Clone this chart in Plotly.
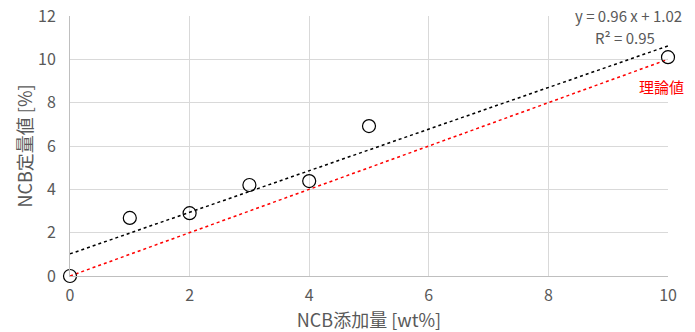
import numpy as np
import plotly.graph_objects as go

# Measured NCB content vs. amount added
added = [0, 1, 2, 3, 4, 5, 10]
measured = [0, 2.68, 2.9, 4.2, 4.38, 6.92, 10.1]

# Linear fit shown on the chart
slope = 0.96
intercept = 1.02
r2 = 0.95

fit_x = [0, 10]
fit_y = [slope * v + intercept for v in fit_x]
theory_x = [0, 10]
theory_y = [0, 10]

FONT = "Noto Sans CJK JP"
GREY = "#595959"

fig = go.Figure()
fig.add_trace(go.Scatter(x=fit_x, y=fit_y, mode="lines",
                         line=dict(color="black", width=1.5, dash="dot"),
                         hoverinfo="skip", showlegend=False))
fig.add_trace(go.Scatter(x=theory_x, y=theory_y, mode="lines",
                         line=dict(color="red", width=1.5, dash="dot"),
                         hoverinfo="skip", showlegend=False))
fig.add_trace(go.Scatter(x=added, y=measured, mode="markers",
                         marker=dict(symbol="circle-open", size=13,
                                     color="black", line=dict(width=1.2)),
                         cliponaxis=False, showlegend=False))

fig.add_annotation(x=1.0, y=1.0, xref="paper", yref="paper",
                   xanchor="right", yanchor="middle", xshift=16, yshift=1,
                   text=f"y = {slope:.2f} x + {intercept:.2f}",
                   showarrow=False, font=dict(family=FONT, size=15, color=GREY))
fig.add_annotation(x=1.0, y=1.0, xref="paper", yref="paper",
                   xanchor="right", yanchor="middle", xshift=-11, yshift=-21,
                   text=f"R² = {r2:.2f}",
                   showarrow=False, font=dict(family=FONT, size=15, color=GREY))
fig.add_annotation(x=10, y=10, xref="x", yref="y",
                   xanchor="right", yanchor="middle", xshift=18, yshift=-27,
                   text="理論値", showarrow=False,
                   font=dict(family=FONT, size=15, color="red"))

fig.update_layout(
    width=695, height=332,
    margin=dict(l=70, r=27, t=16, b=56, autoexpand=False),
    plot_bgcolor="white", paper_bgcolor="white",
    font=dict(family=FONT, color=GREY, size=14),
)
fig.update_xaxes(range=[0, 10], tickvals=[0, 2, 4, 6, 8, 10],
                 showgrid=True, gridcolor="#d9d9d9", gridwidth=1,
                 showline=True, linecolor="#bfbfbf", linewidth=1,
                 zeroline=False, ticks="", ticklen=0, automargin=False,
                 ticklabelstandoff=5,
                 tickfont=dict(size=16, color=GREY),
                 title=dict(text="NCB添加量 [wt%]", font=dict(size=18, color=GREY),
                            standoff=4))
fig.update_yaxes(range=[0, 12], tickvals=[0, 2, 4, 6, 8, 10, 12],
                 showgrid=True, gridcolor="#d9d9d9", gridwidth=1,
                 showline=True, linecolor="#bfbfbf", linewidth=1,
                 zeroline=False, ticks="", automargin=False,
                 ticklabelstandoff=10,
                 tickfont=dict(size=16, color=GREY),
                 title=dict(text="NCB定量値 [%]", font=dict(size=18, color=GREY),
                            standoff=0))

fig.write_html("out.html")
